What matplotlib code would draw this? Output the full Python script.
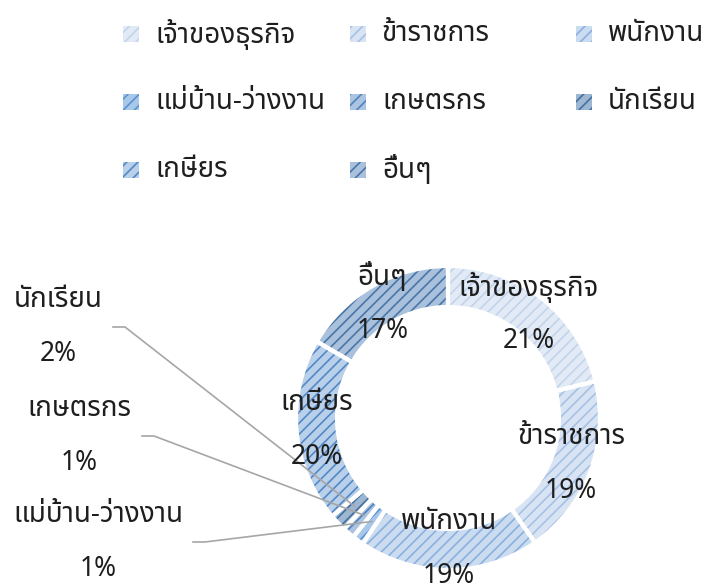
import numpy as np
import matplotlib
matplotlib.use("Agg")
import matplotlib.pyplot as plt
from matplotlib.patches import Rectangle

# data (share of respondents by occupation, %)
categories = ["เจ้าของธุรกิจ", "ข้าราชการ", "พนักงาน", "แม่บ้าน-ว่างงาน",
              "เกษตรกร", "นักเรียน", "เกษียร", "อื่นๆ"]
shares = [21.1, 19.2, 19.2, 1.2, 1.3, 1.8, 19.6, 16.6]

face_colors = ["#e2eaf5", "#d8e4f3", "#cbdcf1", "#a8c8ea",
               "#aac4e2", "#9db6d2", "#b9d0ea", "#a9c1dc"]
hatch_colors = ["#c2d4ec", "#a6c1e4", "#8ab0dd", "#5a93d3",
                "#5283bc", "#44709f", "#5388c6", "#4a76a6"]

W, H = 710, 583
plt.rcParams["font.family"] = ["Noto Sans", "Noto Sans Thai"]
plt.rcParams["hatch.linewidth"] = 1.2
txt_color = "#1e1e1e"
fs_name = 20
fs_pct = 19

fig = plt.figure(figsize=(W / 100, H / 100), dpi=100)
ax = fig.add_axes([0, 0, 1, 1])

cx, cy = 448, H - 418   # donut centre in pixels
R, ring = 152, 41

wedges, _ = ax.pie(shares, colors=face_colors, startangle=90, counterclock=False,
                   radius=R, center=(cx, cy), wedgeprops=dict(width=ring, linewidth=0))
for w, hc in zip(wedges, hatch_colors):
    w.set_hatch("///")
    w.set_edgecolor(hc)
# white separators on top
ax.pie(shares, colors=["none"] * len(shares), startangle=90, counterclock=False,
       radius=R, center=(cx, cy),
       wedgeprops=dict(width=ring, linewidth=3, edgecolor="white", fill=False))

ax.set_xlim(0, W)
ax.set_ylim(0, H)
ax.set_aspect("equal")
ax.axis("off")

# labels inside the ring for the big slices, outside with leader lines for the small ones
outside = {3: (98, 542, 193), 4: (79, 436, 142), 5: (58, 327, 113)}
for i, (w, name, v) in enumerate(zip(wedges, categories, shares)):
    mid = np.deg2rad((w.theta1 + w.theta2) / 2)
    pct = f"{v:.0f}%"
    if i in outside:
        lx, ly, sx = outside[i]
        ly = H - ly
        r = R - ring / 2 - 3
        ex, ey = cx + r * np.cos(mid), cy + r * np.sin(mid)
        ax.plot([sx, sx + 12, ex], [ly, ly, ey], color="#a6a6a6", lw=1.2, zorder=5)
    else:
        r = R - ring / 2
        lx, ly = cx + r * np.cos(mid), cy + r * np.sin(mid)
    ax.text(lx, ly + 27, name, ha="center", va="center", fontsize=fs_name, color=txt_color, zorder=6)
    ax.text(lx, ly - 27, pct, ha="center", va="center", fontsize=fs_pct, color=txt_color, zorder=6)

# legend, three per row
col_x = [123, 350, 576]
row_y = [34, 102, 170]
for i, name in enumerate(categories):
    x = col_x[i % 3]
    y = H - row_y[i // 3]
    ax.add_patch(Rectangle((x, y - 8), 16, 16, facecolor=face_colors[i],
                           edgecolor=hatch_colors[i], hatch="///", linewidth=0))
    ax.text(x + 32, y, name, ha="left", va="center", fontsize=fs_name, color=txt_color)

fig.savefig("out.png", dpi=100)
